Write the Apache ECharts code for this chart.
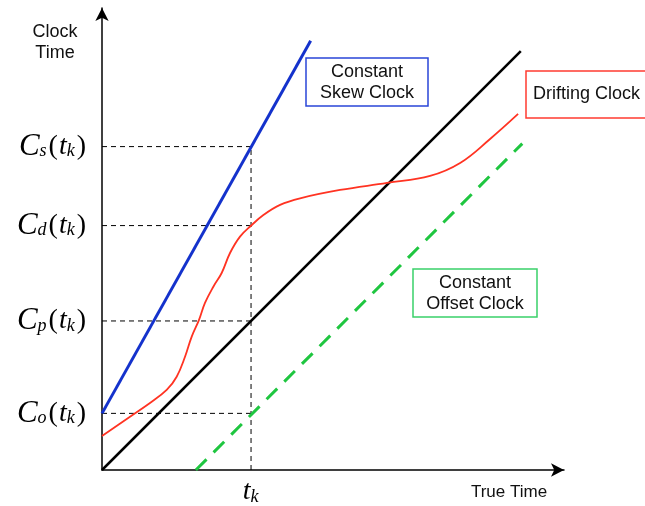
<!DOCTYPE html>
<html>
<head>
<meta charset="utf-8">
<script src="https://cdn.jsdelivr.net/npm/echarts@6/dist/echarts.min.js"></script>
<style>html,body{margin:0;padding:0;background:#fff}#c{width:645px;height:506px}</style>
</head>
<body>
<div id="c"></div>
<script>
// ---- data (true time on x, clock time on y; t_k = 1) ----
const tk = 1.0;
const yTickValues = [0.38, 1.0, 1.64, 2.17];
const yTickSubs = ['o', 'p', 'd', 's'];
const perfectX = [0, 2.81];
const perfectY = [0, 2.81];
const skewX = [0, 1.40];
const skewY = [0.38, 2.88];
const offsetX = [0.63, 2.82];
const offsetY = [0, 2.19];
const driftX = [0, 0.188, 0.322, 0.434, 0.501, 0.557, 0.602, 0.651, 0.691, 0.747, 0.803, 0.859, 0.926, 1.005, 1.083, 1.195, 1.329, 1.597, 1.913, 2.201, 2.403, 2.604, 2.792];
const driftY = [0.228, 0.358, 0.450, 0.537, 0.626, 0.760, 0.895, 1.007, 1.121, 1.230, 1.322, 1.456, 1.566, 1.644, 1.711, 1.779, 1.823, 1.879, 1.926, 1.973, 2.060, 2.221, 2.389];

const zip = (xs, ys) => xs.map((x, i) => [x, ys[i]]);
const chart = echarts.init(document.getElementById('c'), null, {renderer: 'canvas'});

const serifI = {fontFamily: 'Liberation Serif', fontStyle: 'italic', color: '#000'};
const rich = {
  c: Object.assign({fontSize: 31, padding: [0, 0, 0, 0]}, serifI),
  s: Object.assign({fontSize: 18, padding: [10, 2, 0, 0]}, serifI),
  p: {fontFamily: 'Liberation Serif', fontSize: 28, color: '#000'},
  t: Object.assign({fontSize: 28, padding: [0, 0, 0, 1]}, serifI),
  k: Object.assign({fontSize: 18, padding: [10, 2, 0, 0]}, serifI)
};

const guides = [];
yTickValues.forEach(v => guides.push([[0, v], [tk, v]]));
guides.push([[tk, 0], [tk, Math.max(...yTickValues)]]);
const guideSeries = guides.map(g => ({
  type: 'line', data: g, symbol: 'none', silent: true, z: 1,
  lineStyle: {color: '#000', width: 1, type: [5, 4]}
}));

const arrowLine = {lineStyle: {color: '#000', width: 1.5}, symbol: ['none', 'arrow'], symbolSize: [10, 13], symbolOffset: [0, 0]};

chart.setOption({
  animation: false,
  grid: {left: 102, top: 8, width: 462, height: 462},
  xAxis: {
    type: 'value', min: 0, max: 3.1,
    splitLine: {show: false}, axisTick: {show: false},
    axisLine: arrowLine,
    axisLabel: {customValues: [tk], margin: 8, formatter: () => '{t|t}{k|k}', rich: rich}
  },
  yAxis: {
    type: 'value', min: 0, max: 3.1,
    splitLine: {show: false}, axisTick: {show: false},
    axisLine: arrowLine,
    axisLabel: {
      customValues: yTickValues, margin: 16,
      formatter: v => '{c|C}{s|' + yTickSubs[yTickValues.indexOf(v)] + '}{p|(}{t|t}{k|k}{p|)}',
      rich: rich
    }
  },
  series: guideSeries.concat([
    {type: 'line', data: zip(perfectX, perfectY), symbol: 'none', lineStyle: {color: '#000', width: 2.5}, z: 3},
    {type: 'line', data: zip(skewX, skewY), symbol: 'none', lineStyle: {color: '#1432cc', width: 3}, z: 3},
    {type: 'line', data: zip(offsetX, offsetY), symbol: 'none', lineStyle: {color: '#1fc640', width: 3, type: [15, 10]}, z: 3},
    {type: 'line', data: zip(driftX, driftY), symbol: 'none', smooth: 0.4, lineStyle: {color: '#ff3322', width: 1.8}, z: 3}
  ]),
  graphic: [
    {type: 'text', style: {text: 'Clock\nTime', x: 55, y: 22, align: 'center', font: '18px "Liberation Sans"', lineHeight: 21, fill: '#111'}},
    {type: 'text', style: {text: 'True Time', x: 509, y: 484, align: 'center', font: '17px "Liberation Sans"', fill: '#111'}},
    {type: 'rect', shape: {x: 306, y: 58, width: 122, height: 48}, style: {fill: '#fff', stroke: '#2a46d8', lineWidth: 1.5}},
    {type: 'text', style: {text: 'Constant\nSkew Clock', x: 367, y: 62, align: 'center', font: '18px "Liberation Sans"', lineHeight: 21, fill: '#111'}},
    {type: 'rect', shape: {x: 526, y: 71, width: 130, height: 47}, style: {fill: '#fff', stroke: '#ff3b30', lineWidth: 1.5}},
    {type: 'text', style: {text: 'Drifting Clock', x: 533, y: 85, font: '18px "Liberation Sans"', fill: '#111'}},
    {type: 'rect', shape: {x: 413, y: 269, width: 124, height: 48}, style: {fill: '#fff', stroke: '#3ad16a', lineWidth: 1.5}},
    {type: 'text', style: {text: 'Constant\nOffset Clock', x: 475, y: 273, align: 'center', font: '18px "Liberation Sans"', lineHeight: 21, fill: '#111'}}
  ]
});
</script>
</body>
</html>
